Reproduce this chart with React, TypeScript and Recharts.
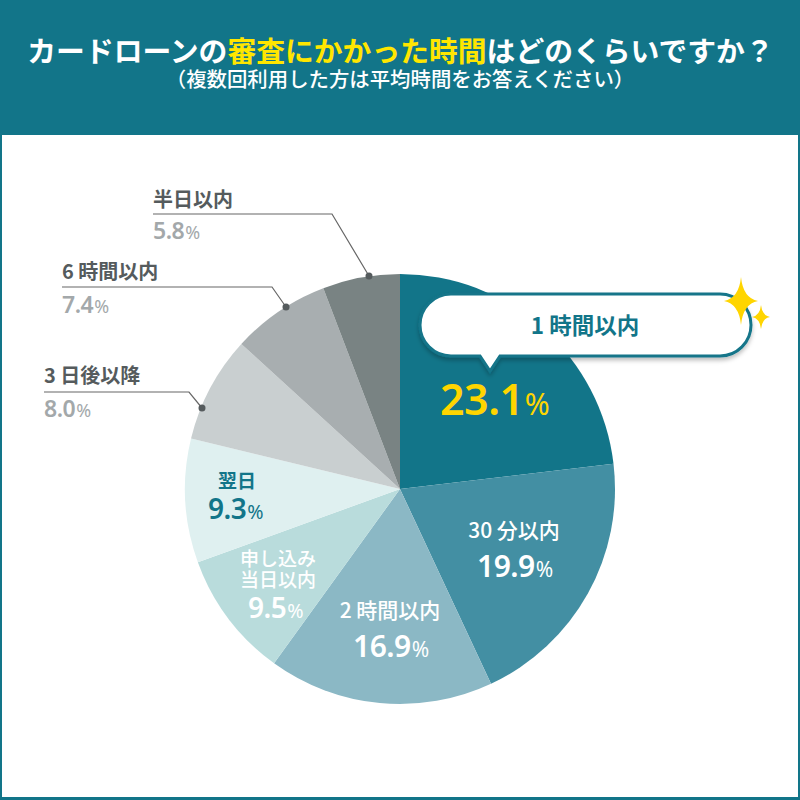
import React from "react";
import { Cell, Pie, PieChart } from "recharts";

const categories = ["1 時間以内", "30 分以内", "2 時間以内", "申し込み当日以内", "翌日", "3 日後以降", "6 時間以内", "半日以内"];
const shares = [23.1, 19.9, 16.9, 9.5, 9.3, 8.0, 7.4, 5.8];
const sliceColors = ["#127589", "#438fa3", "#8bb8c5", "#b9dcdc", "#dff0f0", "#c9cfd0", "#a8aeb0", "#798383"];

const TEAL = "#127589";
const JP = "'Noto Sans CJK JP', sans-serif";
const NUM = "'Noto Sans', sans-serif";

const tableData = categories.map((name, i) => ({ name, value: shares[i] }));

function Value({ x, y, index, size, color, pct = 0.7 }: { x: number; y: number; index: number; size: number; color: string; pct?: number }) {
  return (
    <text x={x} y={y} fontFamily={NUM} fontWeight={600} fontSize={size} fill={color} letterSpacing={-0.5}>
      {shares[index].toFixed(1)}
      <tspan fontSize={size * pct} fontWeight={400} dx={1}>%</tspan>
    </text>
  );
}

function Label({ x, y, text, size, color, anchor = "middle", weight = 500 }: any) {
  return (
    <text x={x} y={y} textAnchor={anchor} fontFamily={JP} fontWeight={weight} fontSize={size} fill={color}>
      {text}
    </text>
  );
}

// star shape for the sparkle next to the callout
function star(cx: number, cy: number, rx: number, ry: number) {
  return `M${cx} ${cy - ry}Q${cx + rx * 0.12} ${cy - ry * 0.12} ${cx + rx} ${cy}Q${cx + rx * 0.12} ${cy + ry * 0.12} ${cx} ${cy + ry}Q${cx - rx * 0.12} ${cy + ry * 0.12} ${cx - rx} ${cy}Q${cx - rx * 0.12} ${cy - ry * 0.12} ${cx} ${cy - ry}Z`;
}

function Leader({ x0, y0, x1, x2, y2 }: { x0: number; y0: number; x1: number; x2: number; y2: number }) {
  return (
    <g>
      <polyline points={`${x0},${y0} ${x1},${y0} ${x2},${y2}`} fill="none" stroke="#666" strokeWidth={1.2} />
      <circle cx={x2} cy={y2} r={3.5} fill="#555b5d" />
    </g>
  );
}

export default function App() {
  return (
    <div style={{ position: "absolute", left: 0, top: 0, width: 800, height: 800, background: TEAL, overflow: "hidden" }}>
      <div style={{ position: "absolute", left: 2, top: 135, width: 796, height: 662, background: "#fff" }} />
      <div style={{ position: "absolute", left: 0, top: 0 }}>
        <PieChart width={800} height={800} margin={{ top: 0, right: 0, bottom: 0, left: 0 }}>
          <Pie
            data={tableData}
            dataKey="value"
            nameKey="name"
            cx={400}
            cy={489}
            outerRadius={215}
            startAngle={90}
            endAngle={-270}
            stroke="none"
            isAnimationActive={false}
          >
            {tableData.map((d, i) => (
              <Cell key={d.name} fill={sliceColors[i]} />
            ))}
          </Pie>
        </PieChart>
      </div>
      <svg width={800} height={800} style={{ position: "absolute", left: 0, top: 0 }}>
        <defs>
          <filter id="shadow" x="-10%" y="-20%" width="120%" height="150%">
            <feDropShadow dx={0} dy={3} stdDeviation={2} floodColor="#000" floodOpacity={0.25} />
          </filter>
        </defs>

        <text x={400.5} y={62} textAnchor="middle" fontFamily={JP} fontWeight={700} fontSize={28.8} fill="#fff">
          カードローンの<tspan fill="#ffe600">審査にかかった時間</tspan>はどのくらいですか？
        </text>
        <text x={400} y={87} textAnchor="middle" fontFamily={JP} fontWeight={500} fontSize={20.4} fill="#fff">
          （複数回利用した方は平均時間をお答えください）
        </text>

        <Leader x0={153} y0={214} x1={332} x2={369} y2={276} />
        <Leader x0={62} y0={287} x1={272} x2={286} y2={307} />
        <Leader x0={44} y0={392} x1={189} x2={202} y2={408} />

        <Label x={153} y={207} text={categories[7]} size={20} color="#555b5d" anchor="start" weight={700} />
        <Value x={153} y={239} index={7} size={23} color="#a3a8aa" pct={0.78} />
        <Label x={62} y={279} text={categories[6]} size={20} color="#555b5d" anchor="start" weight={700} />
        <Value x={62} y={313} index={6} size={23} color="#a3a8aa" pct={0.78} />
        <Label x={44} y={383} text={categories[5]} size={20} color="#555b5d" anchor="start" weight={700} />
        <Value x={44} y={417} index={5} size={23} color="#a3a8aa" pct={0.78} />

        <g filter="url(#shadow)">
          <path
            d="M451 294H720A31 31 0 0 1 720 356H500L490 371L480 356H451A31 31 0 0 1 451 294Z"
            fill="#fff"
            stroke={TEAL}
            strokeWidth={3}
          />
        </g>
        <Label x={585} y={334} text={categories[0]} size={22.5} color={TEAL} weight={700} />
        <path d={star(741, 301, 17, 24)} fill="#ffd500" />
        <path d={star(761, 317, 9, 12)} fill="#ffd500" />
        <Value x={440} y={415} index={0} size={43} color="#ffd500" />

        <Label x={514} y={538} text={categories[1]} size={21} color="#fff" />
        <Value x={477} y={577} index={1} size={30} color="#fff" />
        <Label x={390} y={618} text={categories[2]} size={21} color="#fff" />
        <Value x={353} y={657} index={2} size={30} color="#fff" />
        <Label x={278} y={566} text="申し込み" size={19} color="#fff" />
        <Label x={278} y={587} text="当日以内" size={19} color="#fff" />
        <Value x={248} y={618} index={3} size={28} color="#fff" />
        <Label x={237} y={488} text={categories[4]} size={19} color={TEAL} weight={700} />
        <Value x={208} y={519} index={4} size={28} color={TEAL} />
      </svg>
    </div>
  );
}
